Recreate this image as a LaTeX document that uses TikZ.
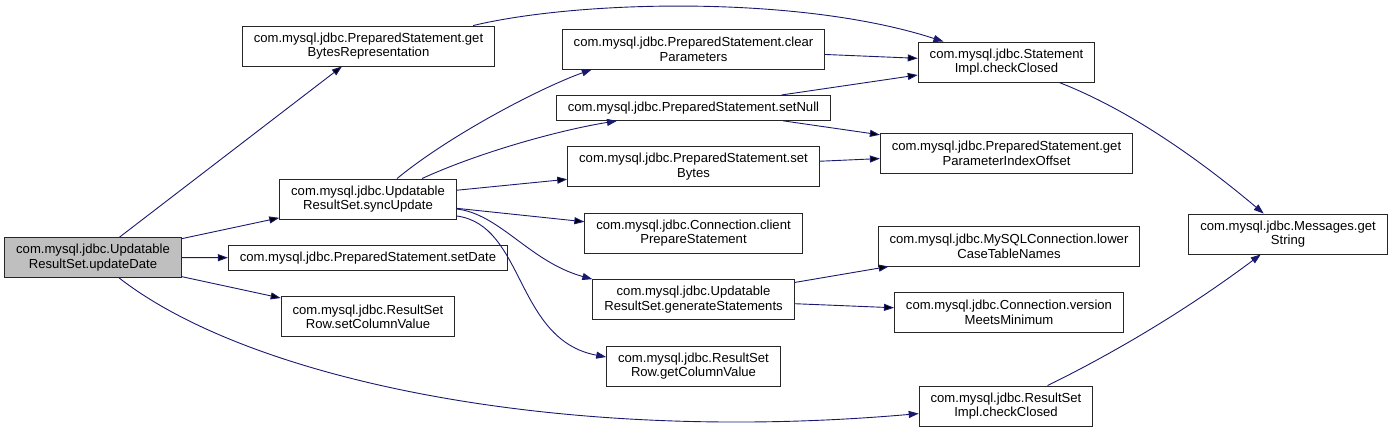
\documentclass[tikz,border=0pt]{standalone}
\usepackage{fontspec}
\setmainfont{Liberation Sans}
\usetikzlibrary{positioning, arrows.meta}
\definecolor{edgeblue}{HTML}{191970}
\definecolor{rootgray}{HTML}{BFBFBF}

\begin{document}
\begin{tikzpicture}[x=1pt, y=-1pt, node distance=25.5pt,
    fn/.style={draw=black!85, line width=0.9pt, align=center, inner xsep=11.5pt,
      inner ysep=1pt, minimum height=40pt, font=\fontsize{13.1}{14.7}\selectfont},
    fnone/.style={fn, minimum height=25pt},
    call/.style={draw=edgeblue, line width=0.9pt, -{Triangle[length=10pt, width=7pt]}}]
    \useasboundingbox (0,0) rectangle (1393,432);

    \node [fn, fill=rootgray] (updatedate) at (93,257.5) {
      com.mysql.jdbc.Updatable \\
      ResultSet.updateDate
    } ;
    \node [fn] (getbytes) at (368.5,46) {
      com.mysql.jdbc.PreparedStatement.get \\
      BytesRepresentation
    } ;
    \node [fn] (syncupd) at (368,199) {
      com.mysql.jdbc.Updatable \\
      ResultSet.syncUpdate
    } ;
      \node [fnone, below=of syncupd] (setdate) {com.mysql.jdbc.PreparedStatement.setDate} ;
      \node [fn, below=of setdate] (setcolval) {
        com.mysql.jdbc.ResultSet \\
        Row.setColumnValue
      } ;
    \node [fn] (clearparams) at (693.5,49) {
      com.mysql.jdbc.PreparedStatement.clear \\
      Parameters
    } ;
      \node [fnone, below=of clearparams] (setnull) {com.mysql.jdbc.PreparedStatement.setNull} ;
      \node [fn, below=of setnull] (setbytes) {
        com.mysql.jdbc.PreparedStatement.set \\
        Bytes
      } ;
      \node [fn, below=of setbytes] (clientprep) {
        com.mysql.jdbc.Connection.client \\
        PrepareStatement
      } ;
      \node [fn, below=of clientprep] (genstmts) {
        com.mysql.jdbc.Updatable \\
        ResultSet.generateStatements
      } ;
      \node [fn, below=of genstmts] (getcolval) {
        com.mysql.jdbc.ResultSet \\
        Row.getColumnValue
      } ;
    \node [fn] (stmtclosed) at (1006.5,62) {
      com.mysql.jdbc.Statement \\
      Impl.checkClosed
    } ;
    \node [fn] (paramoffset) at (1006.5,153) {
      com.mysql.jdbc.PreparedStatement.get \\
      ParameterIndexOffset
    } ;
    \node [fn] (lowercase) at (1009,246) {
      com.mysql.jdbc.MySQLConnection.lower \\
      CaseTableNames
    } ;
      \node [fn, below=of lowercase] (versionmin) {
        com.mysql.jdbc.Connection.version \\
        MeetsMinimum
      } ;
    \node [fn] (rsclosed) at (1006,406) {
      com.mysql.jdbc.ResultSet \\
      Impl.checkClosed
    } ;
    \node [fn] (getstring) at (1288,234) {
      com.mysql.jdbc.Messages.get \\
      String
    } ;

    \path [call] (updatedate) edge (getbytes) ;
    \path [call] (updatedate) edge (syncupd) ;
    \path [call] (updatedate) edge (setdate) ;
    \path [call] (updatedate) edge (setcolval) ;
    \draw [call] (updatedate) .. controls (250,380) and (560,445) .. (rsclosed) ;
    \draw [call] ([xshift=-22pt]getbytes.north east) .. controls (580,0) and (800,-5) .. (stmtclosed) ;
      \draw [call] ([xshift=29pt]syncupd.north) .. controls (450,135) and (540,88) .. ([xshift=30pt]clearparams.south west) ;
      \draw [call] ([xshift=54pt]syncupd.north) .. controls (480,152) and (560,130) .. ([xshift=61pt]setnull.south west) ;
      \path [call] (syncupd) edge (setbytes) ;
      \path [call] (syncupd) edge (clientprep) ;
      \draw [call] ([yshift=-10pt]syncupd.east) .. controls (500,214) and (530,262) .. (genstmts.north west) ;
      \draw [call] ([yshift=-17pt]syncupd.east) .. controls (525,225) and (515,340) .. ([yshift=9pt]getcolval.west) ;
    \path [call] (clearparams) edge (stmtclosed) ;
    \path [call] (setnull) edge (stmtclosed) ;
    \path [call] (setnull) edge (paramoffset) ;
    \path [call] (setbytes) edge (paramoffset) ;
    \path [call] (genstmts) edge (lowercase) ;
    \path [call] (genstmts) edge (versionmin) ;
    \draw [call] (stmtclosed) .. controls (1130,110) and (1200,160) .. (getstring) ;
    \draw [call] (rsclosed) .. controls (1130,345) and (1200,300) .. (getstring) ;
\end{tikzpicture}
\end{document}
